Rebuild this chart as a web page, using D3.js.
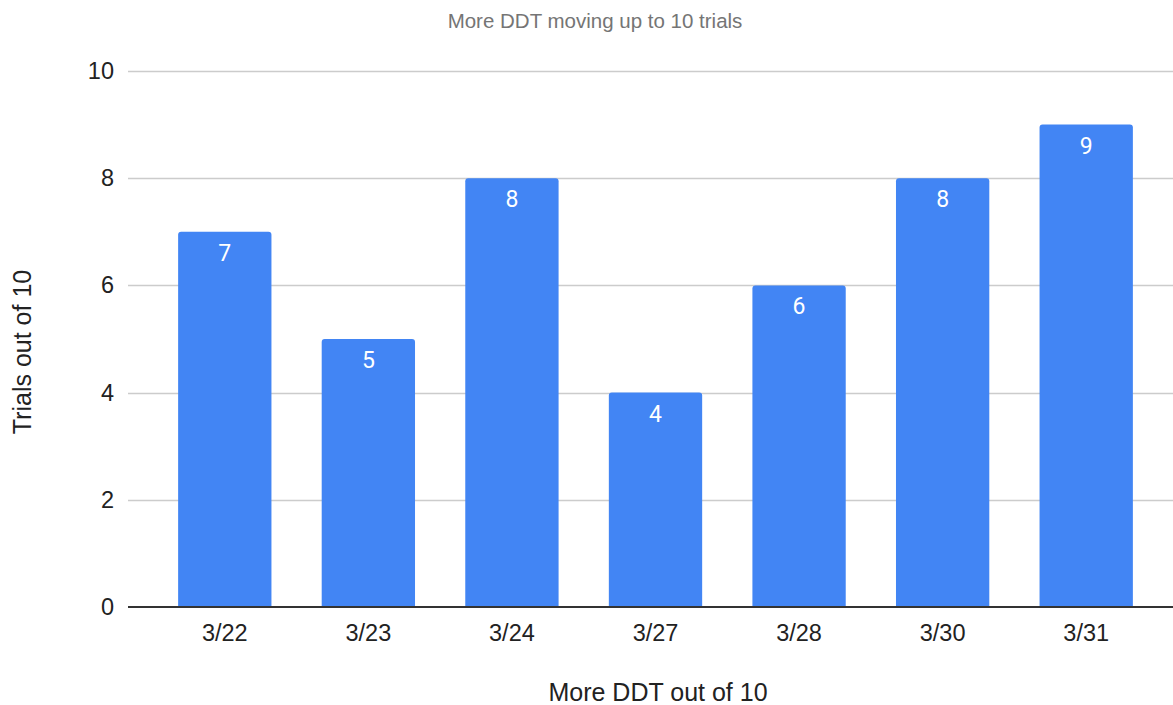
<!DOCTYPE html>
<html>
<head>
<meta charset="utf-8">
<script src="https://cdn.jsdelivr.net/npm/d3@7"></script>
<style>
  html, body { margin: 0; padding: 0; background: #fff; }
  svg { display: block; }
</style>
</head>
<body>
<svg id="chart" width="1173" height="705"></svg>
<script>
const categories = ["3/22", "3/23", "3/24", "3/27", "3/28", "3/30", "3/31"];
const values = [7, 5, 8, 4, 6, 8, 9];
const yTicks = [0, 2, 4, 6, 8, 10];
const titleText = "More DDT moving up to 10 trials";
const xTitle = "More DDT out of 10";
const yTitle = "Trials out of 10";

const svg = d3.select("#chart");
const plot = { left: 128, right: 1173, top: 71, bottom: 607 };

const x = d3.scaleBand().domain(categories).range([153, 1158]).paddingInner(0.35).paddingOuter(0.175);
const y = d3.scaleLinear().domain([0, 10]).range([plot.bottom, plot.top]);

const axisFont = "'Liberation Sans', Arial, sans-serif";

// gridlines
svg.append("g").selectAll("line").data(yTicks.filter(d => d !== 0)).join("line")
  .attr("x1", plot.left).attr("x2", plot.right)
  .attr("y1", d => Math.round(y(d)) + 0.5).attr("y2", d => Math.round(y(d)) + 0.5)
  .attr("stroke", "#cccccc").attr("stroke-width", 1.5);

// y tick labels
const yAxis = d3.axisLeft(y).tickValues(yTicks).tickSize(0).tickPadding(0).tickFormat(d3.format("d"));
const yg = svg.append("g").attr("transform", `translate(114,0)`).call(yAxis);
yg.select(".domain").remove();
yg.selectAll("text").attr("font-family", axisFont).attr("font-size", 23.5).attr("fill", "#222");

// bars with rounded top corners
const r = 3;
function barPath(d, i) {
  const x0 = x(categories[i]), w = x.bandwidth();
  const yt = y(d), yb = y(0);
  return `M${x0},${yb}V${yt + r}Q${x0},${yt} ${x0 + r},${yt}H${x0 + w - r}Q${x0 + w},${yt} ${x0 + w},${yt + r}V${yb}Z`;
}
svg.append("g").selectAll("path").data(values).join("path")
  .attr("d", barPath)
  .attr("fill", "#4285f4");

// value labels
svg.append("g").selectAll("text").data(values).join("text")
  .attr("x", (d, i) => x(categories[i]) + x.bandwidth() / 2)
  .attr("y", d => y(d) + 29)
  .attr("text-anchor", "middle")
  .attr("font-family", "Roboto, 'Open Sans', sans-serif")
  .attr("font-size", 23)
  .attr("fill", "#ffffff")
  .text(d => d);

// baseline
svg.append("line")
  .attr("x1", plot.left).attr("x2", plot.right)
  .attr("y1", y(0)).attr("y2", y(0))
  .attr("stroke", "#333").attr("stroke-width", 2);

// x axis labels
const xAxis = d3.axisBottom(x).tickSize(0).tickPadding(0);
const xg = svg.append("g").attr("transform", `translate(0,${plot.bottom})`).call(xAxis);
xg.select(".domain").remove();
xg.selectAll("text").attr("dy", null).attr("y", 34)
  .attr("font-family", axisFont).attr("font-size", 23.5).attr("fill", "#222");

// title
svg.append("text")
  .attr("x", 595).attr("y", 28)
  .attr("text-anchor", "middle")
  .attr("font-family", axisFont).attr("font-size", 20.5)
  .attr("fill", "#757575")
  .text(titleText);

// x title
svg.append("text")
  .attr("x", 658).attr("y", 701)
  .attr("text-anchor", "middle")
  .attr("font-family", axisFont).attr("font-size", 25)
  .attr("fill", "#222")
  .text(xTitle);

// y title
svg.append("text")
  .attr("transform", `translate(31,352) rotate(-90)`)
  .attr("text-anchor", "middle")
  .attr("font-family", axisFont).attr("font-size", 25)
  .attr("fill", "#222")
  .text(yTitle);
</script>
</body>
</html>
